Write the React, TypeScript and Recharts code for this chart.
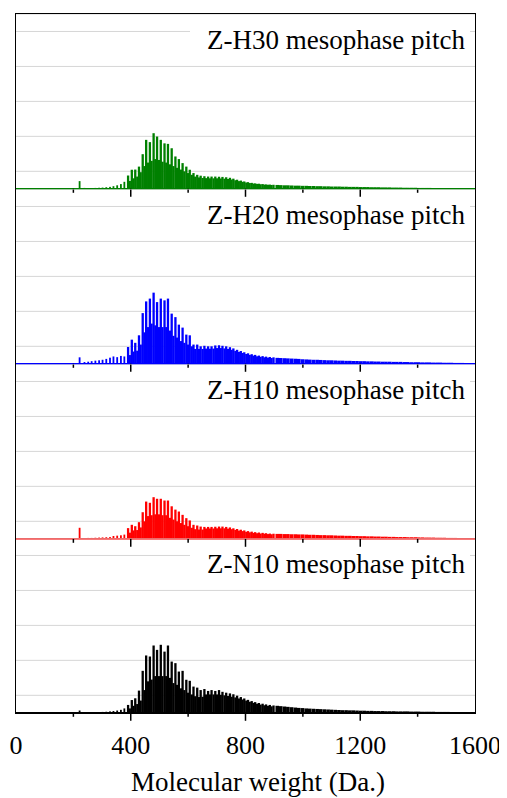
import React from "react";
import { BarChart, Bar, XAxis, YAxis, CartesianGrid, ReferenceLine } from "recharts";

// m/z positions (Da) of the sticks
const lowMasses = [222, 239, 252, 264, 277, 290, 302, 315, 328, 340, 353, 366, 378];
const peakMasses = [
  391, 404, 416, 429, 442, 454, 467, 480, 492, 505, 518, 530, 543, 556, 568, 581, 594, 606, 619, 632,
  644, 657, 670, 682, 695, 708, 720, 733, 746, 758, 771, 784, 796, 809, 822, 834, 847, 860, 872, 885, 898,
];
const valleyMasses = [
  397, 410, 423, 435, 448, 461, 473, 486, 499, 511, 524, 537, 549, 562, 575, 587, 600, 613, 625, 638,
  651, 663, 676, 689, 701, 714, 727, 739, 752, 765, 777, 790, 803, 815, 828, 841, 853, 866, 879, 891,
];
const tailMasses = [
  911, 923, 936, 948, 961, 974, 986, 999, 1012, 1024, 1037, 1050, 1062, 1075, 1088, 1100, 1113, 1126,
  1138, 1151, 1164, 1176, 1189, 1202, 1214, 1227, 1240, 1252, 1265, 1278, 1290, 1303, 1316, 1328, 1341,
  1354, 1366, 1379, 1392, 1404, 1417, 1430, 1442, 1455, 1468, 1480, 1493, 1506, 1518, 1531, 1544, 1556,
];

// Z-H30
const h30Low = [4.4, 0.5, 0.4, 0.4, 0.5, 0.6, 0.7, 0.9, 1.1, 1.5, 2.0, 2.7, 4.0];
const h30Peaks = [
  7.6, 10.9, 11, 12.7, 19.8, 28, 26.7, 31.8, 29.9, 28, 26, 25.7, 23.2, 18.5, 17, 14.7, 12.7, 10.9, 9, 8,
  7.5, 7.2, 7, 7, 7, 6.9, 6.8, 6.6, 6.3, 5.8, 5.2, 4.7, 4.2, 3.8, 3.4, 3.1, 2.9, 2.7, 2.5, 2.4, 2.3,
];
const h30Valleys = [
  4.5, 6, 7, 9.5, 13, 15, 16, 17, 16.5, 15.5, 15, 14, 13, 12, 11, 10, 9, 8, 7, 6.5,
  6.2, 6.1, 6, 6, 6, 5.9, 5.8, 5.6, 5.3, 4.9, 4.4, 4, 3.6, 3.3, 3, 2.8, 2.6, 2.4, 2.3, 2.2,
];
const h30Tail = [
  2.2, 2.1, 2.0, 2.0, 1.9, 1.8, 1.8, 1.7, 1.7, 1.6, 1.6, 1.5, 1.5, 1.4, 1.4, 1.3, 1.3, 1.3, 1.2, 1.2,
  1.1, 1.1, 1.1, 1.0, 1.0, 1.0, 0.9, 0.9, 0.9, 0.8, 0.8, 0.8, 0.7, 0.7, 0.7, 0.6, 0.6, 0.6, 0.6, 0.5,
  0.5, 0.5, 0.5, 0.4, 0.4, 0.4, 0.4, 0.3, 0.3, 0.3, 0.3, 0.3,
];

// Z-H20
const h20Low = [3.7, 1.0, 1.2, 1.5, 1.8, 2.0, 2.3, 2.8, 3.5, 4.2, 3.8, 4.5, 4.2];
const h20Peaks = [
  9.6, 13.8, 12, 16.3, 29, 35.7, 37.3, 40.7, 35.3, 37.3, 36.3, 37.3, 28.7, 26.7, 22.4, 20.7, 16.7, 16.3, 11, 11,
  10, 10.3, 10, 10, 10.5, 10.6, 10.3, 10, 9.5, 8.8, 8, 7.3, 6.6, 6, 5.5, 5.1, 4.7, 4.4, 4.1, 3.9, 3.7,
];
const h20Valleys = [
  5, 7, 7.5, 11, 18, 21, 23, 22, 21, 21, 21, 19, 16, 15, 13, 12, 11, 10, 8.5, 8.5,
  8.5, 8.7, 8.6, 8.7, 9, 9, 8.8, 8.5, 8, 7.4, 6.8, 6.2, 5.6, 5.1, 4.7, 4.3, 4, 3.7, 3.5, 3.3,
];
const h20Tail = [
  3.4, 3.3, 3.2, 3.1, 3.0, 2.9, 2.8, 2.6, 2.5, 2.4, 2.3, 2.3, 2.2, 2.1, 2.0, 2.0, 1.9, 1.8, 1.8, 1.7,
  1.7, 1.6, 1.6, 1.5, 1.5, 1.4, 1.4, 1.3, 1.3, 1.2, 1.2, 1.2, 1.1, 1.1, 1.1, 1.0, 1.0, 0.9, 0.9, 0.9,
  0.8, 0.8, 0.8, 0.7, 0.7, 0.7, 0.6, 0.6, 0.6, 0.5, 0.5, 0.5,
];

// Z-H10
const h10Low = [6.3, 0.4, 0.5, 0.5, 0.6, 0.7, 0.8, 0.9, 1.0, 1.6, 1.8, 2.0, 2.4];
const h10Peaks = [
  6.1, 8, 7.2, 9.5, 15.2, 21.3, 20.6, 23.8, 22.9, 22.9, 21.9, 21.9, 18.6, 16.7, 15.6, 13.7, 11.8, 10.5, 8, 7.6,
  7, 6.8, 6.8, 6.8, 6.9, 7, 7, 6.8, 6.5, 6, 5.6, 5.2, 4.8, 4.4, 4.1, 3.8, 3.6, 3.4, 3.2, 3.0, 2.9,
];
const h10Valleys = [
  3.5, 4.8, 5, 6.5, 10, 13, 13.5, 14, 14, 13.5, 13.5, 12, 11, 10, 9, 8, 7.2, 6.3, 5.5, 5.3,
  5.3, 5.9, 5.9, 5.9, 6, 6, 6, 5.8, 5.5, 5.1, 4.7, 4.4, 4, 3.7, 3.4, 3.2, 3, 2.9, 2.7, 2.6,
];
const h10Tail = [
  2.8, 2.8, 2.7, 2.7, 2.6, 2.6, 2.5, 2.5, 2.4, 2.3, 2.3, 2.2, 2.1, 2.1, 2.0, 2.0, 1.9, 1.8, 1.8, 1.7,
  1.7, 1.6, 1.6, 1.5, 1.5, 1.4, 1.4, 1.3, 1.3, 1.2, 1.2, 1.1, 1.1, 1.0, 1.0, 1.0, 0.9, 0.9, 0.9, 0.8,
  0.8, 0.7, 0.7, 0.7, 0.6, 0.6, 0.6, 0.5, 0.5, 0.5, 0.4, 0.4,
];

// Z-N10
const n10Low = [1.3, 0.2, 0.2, 0.3, 0.3, 0.4, 0.5, 0.6, 0.8, 1.0, 1.3, 1.7, 2.5];
const n10Peaks = [
  4.5, 7.3, 8.3, 12.7, 24, 32.8, 32.2, 38.5, 36, 38.9, 35, 38.5, 29.3, 28.4, 23.6, 24, 18.9, 18.3, 15, 14.4,
  13, 13.6, 12.5, 13, 12.5, 13, 12, 11.5, 11.1, 10.6, 9.8, 9, 8.2, 7.4, 6.7, 6.1, 5.6, 5.2, 4.8, 4.5, 4.2,
];
const n10Valleys = [
  2.5, 4, 5, 7, 13, 18, 19, 21, 21, 21, 21, 20, 17, 16, 14, 13, 11.5, 10.5, 9.5, 9,
  9.2, 10.5, 10.5, 10.5, 10.5, 10.3, 10, 9.6, 9.2, 8.8, 8.2, 7.6, 7, 6.3, 5.7, 5.2, 4.7, 4.3, 4, 3.7,
];
const n10Tail = [
  4.0, 3.8, 3.6, 3.4, 3.2, 3.0, 2.8, 2.7, 2.5, 2.4, 2.3, 2.2, 2.1, 2.0, 1.9, 1.8, 1.7, 1.6, 1.5, 1.5,
  1.4, 1.4, 1.3, 1.2, 1.2, 1.1, 1.1, 1.0, 1.0, 1.0, 0.9, 0.9, 0.9, 0.8, 0.8, 0.8, 0.8, 0.7, 0.7, 0.7,
  0.6, 0.6, 0.6, 0.6, 0.5, 0.5, 0.5, 0.5, 0.4, 0.4, 0.4, 0.4,
];

const xTicks = [0, 200, 400, 600, 800, 1000, 1200, 1400, 1600];
const gridTicks = [10, 20, 30, 40, 50, 60, 70, 80, 90];

const SERIF = '"Liberation Serif", "Times New Roman", serif';
const PLOT_TOP = 6;
const PANEL_H = 174.8;
const CHART_W = 499;

function buildSpectrum(low: number[], peaks: number[], valleys: number[], tail: number[]) {
  const rows: { mass: number; v: number }[] = [];
  lowMasses.forEach((m, i) => rows.push({ mass: m, v: low[i] }));
  peakMasses.forEach((m, i) => {
    rows.push({ mass: m, v: peaks[i] });
    if (i < valleyMasses.length) rows.push({ mass: valleyMasses[i], v: valleys[i] });
  });
  tailMasses.forEach((m, i) => rows.push({ mass: m, v: tail[i] }));
  return rows;
}

const panels = [
  { label: "Z-H30 mesophase pitch", color: "#008000", data: buildSpectrum(h30Low, h30Peaks, h30Valleys, h30Tail) },
  { label: "Z-H20 mesophase pitch", color: "#0000ff", data: buildSpectrum(h20Low, h20Peaks, h20Valleys, h20Tail) },
  { label: "Z-H10 mesophase pitch", color: "#ff0000", data: buildSpectrum(h10Low, h10Peaks, h10Valleys, h10Tail) },
  { label: "Z-N10 mesophase pitch", color: "#000000", data: buildSpectrum(n10Low, n10Peaks, n10Valleys, n10Tail) },
];

// stick drawn around the bar centre; the sparse tail gets wider sticks so it reads as a band
function Stick(props: any) {
  const { x, y, width, height, fill } = props;
  if (!height || height <= 0) return <g />;
  const mass = props.mass ?? props.payload?.mass ?? 0;
  const w = mass > 905 ? 3.6 : mass < 385 ? 1.8 : 2.3;
  const cx = x + width / 2;
  return <rect x={cx - w / 2} y={y} width={w} height={height} fill={fill} />;
}

function AxisTick(props: any) {
  const { x, y, payload, showLabel } = props;
  const v = payload.value;
  const major = v % 400 === 0;
  const edge = v === 0 || v === 1600;
  return (
    <g>
      {!edge && (
        <line x1={x} x2={x} y1={y} y2={y + (major ? 8 : 4)} stroke="#000" strokeWidth={1.5} />
      )}
      {showLabel && major && (
        <text x={x} y={y + 41} textAnchor="middle" fontSize={26} fontFamily={SERIF} fill="#000">
          {v}
        </text>
      )}
    </g>
  );
}

function Panel({ label, color, data, index, last }: any) {
  const axisH = last ? 60 : 30;
  const h = PANEL_H + axisH;
  return (
    <div style={{ position: "absolute", left: 0, top: PLOT_TOP + index * PANEL_H, width: CHART_W, height: h }}>
      <BarChart width={CHART_W} height={h} data={data} margin={{ top: 0, right: 32, bottom: 0, left: 8 }}>
        <CartesianGrid vertical={false} stroke="#d6d6d6" strokeWidth={1} />
        <XAxis
          type="number"
          dataKey="mass"
          domain={[0, 1600]}
          ticks={xTicks}
          interval={0}
          height={axisH}
          axisLine={false}
          tickLine={false}
          tickSize={0}
          tickMargin={0}
          allowDataOverflow
          tick={(p: any) => <AxisTick {...p} showLabel={last} />}
        />
        <YAxis hide domain={[0, 100]} ticks={gridTicks} />
        <Bar dataKey="v" fill={color} barSize={1.8} shape={Stick} isAnimationActive={false} />
        <ReferenceLine y={0} stroke={color} strokeWidth={1.6} />
      </BarChart>
      <div
        style={{
          position: "absolute",
          left: 182,
          top: 9,
          width: 280,
          height: 37,
          background: "#fff",
          textAlign: "right",
          paddingRight: 5,
          boxSizing: "border-box",
          fontFamily: SERIF,
          fontSize: 27,
          lineHeight: "34px",
          color: "#000",
          whiteSpace: "nowrap",
        }}
      >
        {label}
      </div>
    </div>
  );
}

export default function App() {
  return (
    <div style={{ position: "relative", width: CHART_W, height: 790, fontFamily: SERIF }}>
      {panels.map((p, i) => (
        <Panel key={p.label} {...p} index={i} last={i === panels.length - 1} />
      ))}
      <div
        style={{
          position: "absolute",
          left: 7.25,
          top: PLOT_TOP - 0.75,
          width: 460.5,
          height: PANEL_H * 4 + 1.5,
          border: "1.5px solid #000",
          boxSizing: "border-box",
          pointerEvents: "none",
        }}
      />
      <div
        style={{
          position: "absolute",
          left: 0,
          top: 759,
          width: 500,
          textAlign: "center",
          fontFamily: SERIF,
          fontSize: 27,
          lineHeight: "30px",
          color: "#000",
          whiteSpace: "nowrap",
        }}
      >
        Molecular weight (Da.)
      </div>
    </div>
  );
}
